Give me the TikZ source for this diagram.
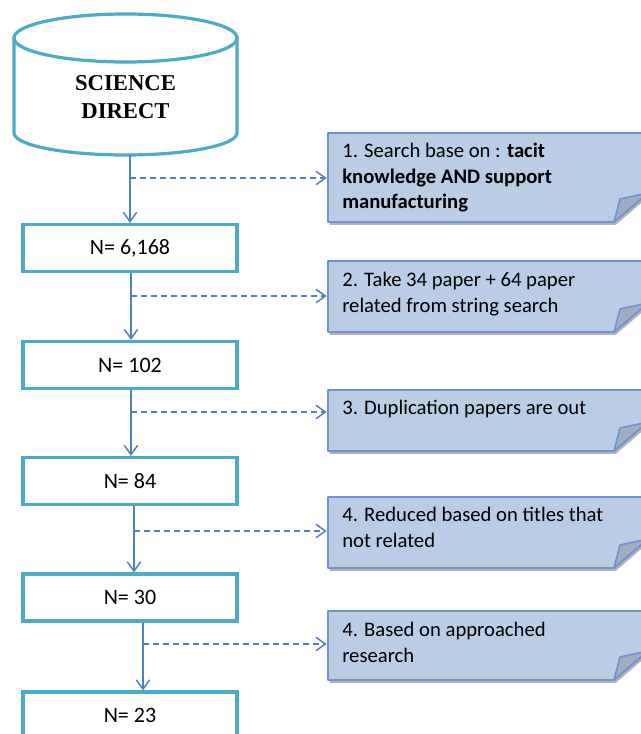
\documentclass[tikz,border=0pt]{standalone}
\usepackage{fontspec}
\setmainfont{Carlito}
\newfontfamily\serifbf{Liberation Serif}
\usetikzlibrary{arrows.meta,shadows}
\definecolor{boxteal}{HTML}{4BACC6}
\definecolor{arrblue}{HTML}{4F81BD}
\definecolor{notefill}{HTML}{B9CDE5}
\definecolor{noteline}{HTML}{6F93CF}
\definecolor{notefold}{HTML}{9EADC2}
\tikzset{
  nbox/.style={draw=boxteal, line width=2.4pt, fill=white, minimum width=160.5pt, minimum height=35.25pt, inner sep=0pt, font=\fontsize{16.5}{20}\selectfont},
  flow/.style={draw=arrblue, line width=1.1pt, -{Straight Barb[length=7pt,width=10pt]}},
  dasharr/.style={draw=arrblue, line width=1.1pt, dash pattern=on 4.5pt off 3pt, -{Straight Barb[length=7pt,width=10pt]}},
  notebody/.style={fill=notefill, draw=noteline, line width=1.2pt, line join=round, drop shadow={shadow xshift=1.2pt, shadow yshift=-2.2pt, opacity=0.3, fill=black}},
  notefoldst/.style={fill=notefold, draw=noteline, line width=1.2pt, line join=round},
  notetext/.style={anchor=north west, inner sep=0pt, align=left, font=\fontsize{15.5}{19.2}\selectfont},
  cyl/.style={draw=boxteal, line width=2.4pt, fill=white}
}
\newcommand\mynote[3]{%
  \path[notebody] (328,#2) -- (670,#2) -- (670,{#3-48}) -- (614,#3) -- (328,#3) -- cycle;
  \path[notefoldst] (614,#3) -- (620,{#3-23}) -- (648,{#3-29}) -- cycle;
  \pgfmathsetmacro\nh{(#3-#2)*0.75}
  \node[inner sep=0pt, anchor=north west, minimum width=255pt, minimum height=\nh pt] (#1) at (328,#2) {};
}
\begin{document}
\begin{tikzpicture}[x=0.75pt, y=-0.75pt]
\useasboundingbox (0,0) rectangle (640,734);
% cylinder
\path[cyl] (14,38) -- (14,133) arc[start angle=180, end angle=0, x radius=111.5, y radius=22] -- (237,38) -- cycle;
\path[cyl] (125.5,38) ellipse [x radius=111.5, y radius=24];
\node[font=\serifbf\bfseries\fontsize{17}{21}\selectfont, align=center, inner sep=0pt] (db) at (125.5,97) {SCIENCE\\DIRECT};
\coordinate (dbb) at (130,155);
% boxes
\node[nbox] (b1) at (130,248) {N= 6,168};
\node[nbox] (b2) at (130,365) {N= 102};
\node[nbox] (b3) at (130,481) {N= 84};
\node[nbox] (b4) at (130,597.5) {N= 30};
\node[nbox] (b5) at (130,715.5) {N= 23};
% notes
\mynote{n1}{133}{222}
\mynote{n2}{261}{332}
\mynote{n3}{390}{451}
\mynote{n4}{497}{568}
\mynote{n5}{611}{680}
\node[notetext] (t1) at (342,143) {1. Search base on : \textbf{tacit}\\\textbf{knowledge AND support}\\\textbf{manufacturing}};
\node[notetext] (t2) at (342,272) {2. Take 34 paper + 64 paper\\related from string search};
\node[notetext] (t3) at (342,400) {3. Duplication papers are out};
\node[notetext] (t4) at (342,507) {4. Reduced based on titles that\\not related};
\node[notetext] (t5) at (342,622) {4. Based on approached\\research};
% vertical flow
\draw[flow] (dbb) -- (b1.north -| dbb);
\draw[flow] ([xshift=0.75pt]b1.south) -- ([xshift=0.75pt]b2.north);
\draw[flow] ([xshift=0.75pt]b2.south) -- ([xshift=0.75pt]b3.north);
\draw[flow] ([xshift=3pt]b3.south) -- ([xshift=3pt]b4.north);
\draw[flow] ([xshift=9.75pt]b4.south) -- ([xshift=9.75pt]b5.north);
% branch points
\coordinate (c1) at (130,178);
\coordinate (c2) at (131,296);
\coordinate (c3) at (131,412);
\coordinate (c4) at (134,531);
\coordinate (c5) at (143,644);
\draw[dasharr] (c1) -- ([xshift=-1pt]c1 -| n1.west);
\draw[dasharr] (c2) -- ([xshift=-1pt]c2 -| n2.west);
\draw[dasharr] (c3) -- ([xshift=-1pt]c3 -| n3.west);
\draw[dasharr] (c4) -- ([xshift=-1pt]c4 -| n4.west);
\draw[dasharr] (c5) -- ([xshift=-1pt]c5 -| n5.west);
\end{tikzpicture}
\end{document}
